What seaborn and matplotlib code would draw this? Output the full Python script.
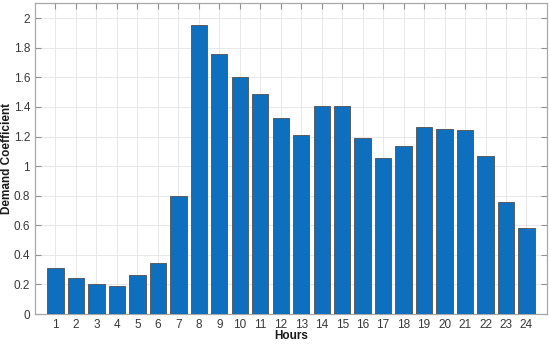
import matplotlib
matplotlib.use("Agg")
import matplotlib.pyplot as plt
import seaborn as sns
import pandas as pd

hours = list(range(1, 25))
demand = [0.313, 0.242, 0.205, 0.187, 0.264, 0.347, 0.796, 1.957, 1.760, 1.602,
          1.490, 1.322, 1.212, 1.408, 1.404, 1.192, 1.053, 1.138, 1.266, 1.251,
          1.244, 1.070, 0.757, 0.579]
y_ticks = [0, 0.2, 0.4, 0.6, 0.8, 1, 1.2, 1.4, 1.6, 1.8, 2]
y_tick_labels = ["0", "0.2", "0.4", "0.6", "0.8", "1", "1.2", "1.4", "1.6", "1.8", "2"]

sns.set_theme(style="white")
plt.rcParams['font.family'] = ['Liberation Sans', 'DejaVu Sans']

df = pd.DataFrame({"Hours": hours, "Demand": demand})

fig = plt.figure(figsize=(5.5, 3.44), dpi=100)
ax = fig.add_axes([0.0636, 0.0872, 0.9309, 0.9028])

sns.barplot(data=df, x="Hours", y="Demand", native_scale=True, width=0.8,
            color="#0f6fbf", saturation=1, edgecolor="#505050", linewidth=0.6,
            ax=ax, zorder=3)

ax.set_xlim(0, 25)
ax.set_ylim(0, 2.1)
ax.set_xticks(hours)
ax.set_xticklabels([str(h) for h in hours])
ax.set_yticks(y_ticks)
ax.set_yticklabels(y_tick_labels)

ax.grid(True, color="#e8e8e8", linewidth=0.7, zorder=0)
ax.set_axisbelow(True)
for s in ax.spines.values():
    s.set_visible(True)
    s.set_color("#a8a8a8")
    s.set_linewidth(0.9)
ax.tick_params(axis="both", which="major", direction="in", length=4, width=0.8,
               color="#909090", labelsize=8.5, labelcolor="#383838",
               top=True, right=True, bottom=True, left=True, pad=3.5)

ax.set_xlabel("Hours", fontsize=8.5, fontweight="bold", color="#1a1a1a")
ax.set_ylabel("Demand Coefficient", fontsize=8.5, fontweight="bold", color="#1a1a1a")
ax.xaxis.set_label_coords(0.5, -0.052)
ax.yaxis.set_label_coords(-0.043, 0.5)

fig.savefig("out.png", dpi=100, facecolor="white")
